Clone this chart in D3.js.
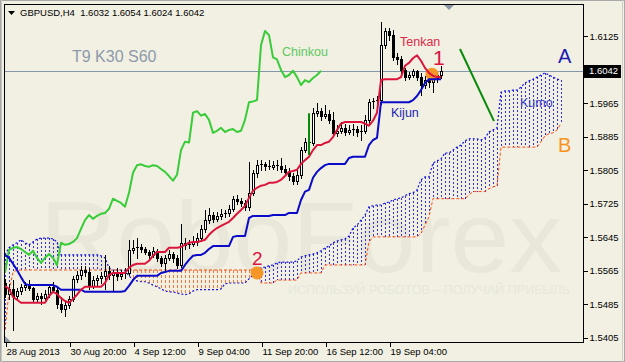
<!DOCTYPE html>
<html><head><meta charset="utf-8">
<script src="https://cdn.jsdelivr.net/npm/d3@7"></script>
<style>
html,body{margin:0;padding:0;background:#F1F0E3;}
svg{display:block;font-family:"Liberation Sans",Arial,sans-serif;}
</style></head><body>
<svg id="chart" width="625" height="362"></svg>
<script>
// ---------------- DATA ----------------
const symbolTitle = "GBPUSD,H4  1.6032 1.6054 1.6024 1.6042";
const settingsLabel = "T9 K30 S60";
const kumoShift = 30;
const lastPrice = 1.6042;

const openP = [1.5536,1.5510,1.5522,1.5505,1.5517,1.5527,1.5531,1.5524,1.5498,1.5505,
 1.5500,1.5510,1.5527,1.5520,1.5486,1.5474,1.5484,1.5498,1.5546,1.5555,
 1.5567,1.5562,1.5529,1.5543,1.5548,1.5553,1.5565,1.5555,1.5560,1.5553,
 1.5558,1.5560,1.5615,1.5620,1.5622,1.5617,1.5610,1.5603,1.5613,1.5596,
 1.5584,1.5596,1.5605,1.5596,1.5579,1.5632,1.5627,1.5629,1.5634,1.5643,
 1.5665,1.5686,1.5698,1.5689,1.5696,1.5701,1.5703,1.5713,1.5737,1.5732,
 1.5727,1.5718,1.5751,1.5799,1.5817,1.5819,1.5815,1.5813,1.5817,1.5815,
 1.5808,1.5801,1.5791,1.5780,1.5794,1.5853,1.5873,1.5871,1.5942,1.5946,
 1.5935,1.5939,1.5925,1.5894,1.5899,1.5906,1.5896,1.5901,1.5903,1.5896,
 1.5899,1.5925,1.5967,1.5969,1.5972,1.6103,1.6137,1.6127,1.6074,1.6069,
 1.6044,1.6027,1.6032,1.6042,1.6027,1.6008,1.6020,1.6015,1.6025,1.6032];
const highP = [1.5546,1.5534,1.5543,1.5524,1.5534,1.5539,1.5543,1.5527,1.5512,1.5512,
 1.5520,1.5534,1.5539,1.5527,1.5503,1.5491,1.5505,1.5553,1.5565,1.5577,
 1.5577,1.5572,1.5553,1.5555,1.5562,1.5603,1.5577,1.5567,1.5572,1.5567,
 1.5572,1.5639,1.5639,1.5643,1.5629,1.5622,1.5615,1.5622,1.5617,1.5601,
 1.5603,1.5615,1.5610,1.5603,1.5677,1.5643,1.5639,1.5648,1.5655,1.5674,
 1.5710,1.5715,1.5706,1.5706,1.5713,1.5710,1.5722,1.5744,1.5746,1.5739,
 1.5734,1.5825,1.5806,1.5829,1.5829,1.5825,1.5829,1.5827,1.5829,1.5834,
 1.5817,1.5810,1.5799,1.5806,1.5860,1.5882,1.5887,1.5953,1.5965,1.5953,
 1.5961,1.5949,1.5944,1.5913,1.5920,1.5916,1.5913,1.5916,1.5911,1.5913,
 1.5937,1.5975,1.5977,1.5982,1.6158,1.6144,1.6144,1.6139,1.6085,1.6077,
 1.6049,1.6039,1.6047,1.6044,1.6037,1.6030,1.6032,1.6032,1.6039,1.6054];
const lowP = [1.5503,1.5498,1.5424,1.5498,1.5510,1.5520,1.5520,1.5491,1.5493,1.5486,
 1.5496,1.5503,1.5515,1.5477,1.5467,1.5458,1.5477,1.5493,1.5539,1.5546,
 1.5553,1.5522,1.5524,1.5531,1.5536,1.5522,1.5546,1.5517,1.5543,1.5546,
 1.5548,1.5555,1.5608,1.5596,1.5610,1.5605,1.5596,1.5598,1.5589,1.5577,
 1.5567,1.5591,1.5586,1.5572,1.5574,1.5617,1.5620,1.5624,1.5627,1.5636,
 1.5658,1.5679,1.5682,1.5684,1.5689,1.5694,1.5696,1.5708,1.5725,1.5720,
 1.5710,1.5710,1.5746,1.5789,1.5806,1.5806,1.5808,1.5808,1.5806,1.5801,
 1.5794,1.5782,1.5772,1.5772,1.5787,1.5848,1.5863,1.5865,1.5935,1.5925,
 1.5930,1.5918,1.5889,1.5887,1.5894,1.5889,1.5892,1.5889,1.5887,1.5877,
 1.5894,1.5916,1.5953,1.5955,1.5963,1.6096,1.6115,1.6068,1.6058,1.6030,
 1.6020,1.6022,1.6027,1.6020,1.5984,1.6001,1.6003,1.5991,1.6015,1.6024];
const closeP = [1.5510,1.5522,1.5505,1.5517,1.5527,1.5531,1.5524,1.5498,1.5505,1.5500,
 1.5510,1.5527,1.5520,1.5486,1.5474,1.5484,1.5498,1.5546,1.5555,1.5567,
 1.5562,1.5529,1.5543,1.5548,1.5553,1.5565,1.5555,1.5560,1.5553,1.5558,
 1.5560,1.5615,1.5620,1.5622,1.5617,1.5610,1.5603,1.5613,1.5596,1.5584,
 1.5596,1.5605,1.5596,1.5579,1.5632,1.5627,1.5629,1.5634,1.5643,1.5665,
 1.5686,1.5698,1.5689,1.5696,1.5701,1.5703,1.5713,1.5737,1.5732,1.5727,
 1.5718,1.5751,1.5799,1.5817,1.5819,1.5815,1.5813,1.5817,1.5815,1.5808,
 1.5801,1.5791,1.5780,1.5794,1.5853,1.5873,1.5871,1.5942,1.5946,1.5935,
 1.5939,1.5925,1.5894,1.5899,1.5906,1.5896,1.5901,1.5903,1.5896,1.5899,
 1.5925,1.5967,1.5969,1.5972,1.6103,1.6137,1.6127,1.6074,1.6069,1.6044,
 1.6027,1.6032,1.6042,1.6027,1.6008,1.6020,1.6015,1.6025,1.6032,1.6042];

const tenkan = [1.5529,1.5522,1.5503,1.5496,1.5489,1.5489,1.5489,1.5489,1.5489,1.5489,
 1.5489,1.5505,1.5515,1.5510,1.5500,1.5493,1.5489,1.5498,1.5508,1.5520,
 1.5527,1.5527,1.5527,1.5527,1.5527,1.5536,1.5555,1.5560,1.5560,1.5560,
 1.5560,1.5572,1.5579,1.5582,1.5582,1.5582,1.5589,1.5601,1.5610,1.5610,
 1.5610,1.5620,1.5620,1.5620,1.5622,1.5627,1.5632,1.5634,1.5634,1.5636,
 1.5639,1.5651,1.5660,1.5667,1.5672,1.5677,1.5682,1.5691,1.5701,1.5710,
 1.5720,1.5739,1.5756,1.5763,1.5768,1.5770,1.5775,1.5775,1.5777,1.5782,
 1.5791,1.5801,1.5803,1.5806,1.5820,1.5829,1.5837,1.5853,1.5865,1.5865,
 1.5870,1.5873,1.5884,1.5901,1.5916,1.5920,1.5920,1.5920,1.5920,1.5920,
 1.5916,1.5911,1.5923,1.5942,1.6020,1.6022,1.6022,1.6022,1.6022,1.6027,
 1.6054,1.6061,1.6072,1.6079,1.6066,1.6049,1.6037,1.6030,1.6027,1.6027];
const kijun = [1.5603,1.5596,1.5582,1.5567,1.5550,1.5534,1.5531,1.5531,1.5531,1.5531,
 1.5531,1.5531,1.5531,1.5527,1.5520,1.5520,1.5520,1.5520,1.5520,1.5520,
 1.5515,1.5515,1.5515,1.5515,1.5515,1.5515,1.5515,1.5515,1.5515,1.5515,
 1.5517,1.5529,1.5543,1.5553,1.5553,1.5553,1.5553,1.5553,1.5553,1.5560,
 1.5562,1.5565,1.5565,1.5565,1.5565,1.5579,1.5591,1.5601,1.5603,1.5603,
 1.5608,1.5617,1.5624,1.5624,1.5624,1.5624,1.5624,1.5646,1.5648,1.5648,
 1.5648,1.5691,1.5696,1.5696,1.5696,1.5696,1.5696,1.5698,1.5698,1.5698,
 1.5698,1.5703,1.5703,1.5703,1.5734,1.5754,1.5758,1.5787,1.5801,1.5810,
 1.5817,1.5820,1.5820,1.5820,1.5820,1.5820,1.5834,1.5837,1.5837,1.5837,
 1.5837,1.5865,1.5877,1.5882,1.5967,1.5967,1.5967,1.5967,1.5967,1.5967,
 1.5967,1.5967,1.5972,1.5982,1.5996,1.6013,1.6022,1.6022,1.6022,1.6022];
const senkouA = [1.5603,1.5620,1.5627,1.5632,1.5639,1.5632,1.5627,1.5634,1.5641,1.5643,
 1.5643,1.5643,1.5641,1.5634,1.5603,1.5603,1.5603,1.5603,1.5603,1.5603,
 1.5603,1.5603,1.5603,1.5603,1.5601,1.5596,1.5572,1.5567,1.5567,1.5567,
 1.5565,1.5553,1.5543,1.5541,1.5539,1.5539,1.5536,1.5531,1.5527,1.5522,
 1.5517,1.5515,1.5515,1.5512,1.5510,1.5508,1.5510,1.5517,1.5520,1.5520,
 1.5520,1.5520,1.5520,1.5520,1.5522,1.5534,1.5536,1.5536,1.5536,1.5536,
 1.5536,1.5546,1.5555,1.5565,1.5572,1.5574,1.5577,1.5579,1.5584,1.5586,
 1.5586,1.5586,1.5586,1.5589,1.5598,1.5601,1.5603,1.5605,1.5608,1.5613,
 1.5620,1.5624,1.5632,1.5636,1.5639,1.5641,1.5648,1.5667,1.5674,1.5686,
 1.5698,1.5718,1.5720,1.5722,1.5722,1.5727,1.5729,1.5734,1.5737,1.5739,
 1.5744,1.5749,1.5751,1.5758,1.5782,1.5789,1.5789,1.5822,1.5827,1.5832,
 1.5846,1.5846,1.5853,1.5860,1.5865,1.5875,1.5880,1.5880,1.5880,1.5877,
 1.5882,1.5896,1.5901,1.5906,1.5991,1.5994,1.5994,1.5996,1.5996,1.6003,
 1.6013,1.6018,1.6022,1.6027,1.6032,1.6037,1.6032,1.6027,1.6022,1.6020];
const senkouB = [1.5424,1.5515,1.5562,1.5567,1.5567,1.5567,1.5567,1.5567,1.5567,1.5567,
 1.5567,1.5567,1.5567,1.5567,1.5567,1.5567,1.5567,1.5567,1.5567,1.5567,
 1.5567,1.5567,1.5567,1.5567,1.5567,1.5567,1.5567,1.5567,1.5567,1.5567,
 1.5567,1.5567,1.5567,1.5567,1.5567,1.5567,1.5567,1.5567,1.5567,1.5567,
 1.5567,1.5567,1.5567,1.5567,1.5567,1.5567,1.5567,1.5567,1.5567,1.5567,
 1.5567,1.5567,1.5567,1.5567,1.5567,1.5567,1.5567,1.5567,1.5567,1.5567,
 1.5567,1.5567,1.5567,1.5567,1.5536,1.5536,1.5536,1.5536,1.5543,1.5543,
 1.5543,1.5543,1.5543,1.5543,1.5560,1.5560,1.5560,1.5560,1.5560,1.5560,
 1.5579,1.5579,1.5579,1.5579,1.5579,1.5579,1.5579,1.5579,1.5579,1.5579,
 1.5579,1.5634,1.5646,1.5646,1.5646,1.5646,1.5646,1.5646,1.5646,1.5646,
 1.5646,1.5646,1.5646,1.5646,1.5655,1.5674,1.5694,1.5737,1.5737,1.5737,
 1.5737,1.5737,1.5737,1.5737,1.5737,1.5737,1.5746,1.5754,1.5754,1.5754,
 1.5754,1.5761,1.5765,1.5768,1.5860,1.5860,1.5860,1.5860,1.5860,1.5860,
 1.5860,1.5860,1.5860,1.5860,1.5873,1.5887,1.5892,1.5894,1.5901,1.5916];

const timeTickBars = [0,16,32,48,64,80,96];
const timeTickLabels = ["28 Aug 2013","30 Aug 20:00","4 Sep 12:00","9 Sep 04:00","11 Sep 20:00","16 Sep 12:00","19 Sep 04:00"];
const priceTicks = [1.5405,1.5485,1.5565,1.5645,1.5725,1.5805,1.5885,1.5965,1.6125];

// annotations anchored in (bar, price)
const signalCircles = [{bar:106.75, price:1.6034},{bar:63, price:1.5560}];
const trendSegment = {bar0:113.75, p0:1.6094, bar1:122.25, p1:1.5922};
const crossMark = {bar:76, p0:1.5941, p1:1.5841};
const labels = [
 {text:settingsLabel, bar:16.75, price:1.6064, size:16, color:"#8D9AAA"},
 {text:"Chinkou", bar:69.25, price:1.6078, size:12.5, color:"#5FC85F"},
 {text:"Tenkan", bar:98.75, price:1.6100, size:12.5, color:"#DC2A48"},
 {text:"Kijun", bar:96.5, price:1.5931, size:12.5, color:"#2424B4"},
 {text:"Kumo", bar:128.75, price:1.5955, size:12.5, color:"#3C3CC4"},
 {text:"A", bar:138.25, price:1.6061, size:20, color:"#1C1CB0"},
 {text:"B", bar:138.25, price:1.5848, size:20, color:"#F7941D"},
 {text:"1", bar:107, price:1.6055, size:21, color:"#DC143C"},
 {text:"2", bar:61.75, price:1.5579, size:19, color:"#DC143C"}
];

// ---------------- DRAW ----------------
const W=625, H=362;
const P={l:4,t:4,r:583,b:342};
const bg="#F1F0E3";
const svg=d3.select("#chart");
const x=d3.scaleLinear().domain([-0.25,144.5]).range([P.l,P.r]);
const y=d3.scaleLinear().domain([1.53953,1.620131]).range([P.b,P.t]);

svg.append("rect").attr("width",W).attr("height",H).attr("fill",bg);
// window border
svg.append("rect").attr("x",0.5).attr("y",0.5).attr("width",W-1).attr("height",H-1)
  .attr("fill","none").attr("stroke","#A8A8A8").attr("stroke-width",1);
svg.append("line").attr("x1",1.5).attr("x2",1.5).attr("y1",0).attr("y2",H).attr("stroke","#C8C8C0");
svg.append("line").attr("x1",W-2.5).attr("x2",W-2.5).attr("y1",0).attr("y2",H).attr("stroke","#D0D0C8");

svg.append("clipPath").attr("id","clip").append("rect")
  .attr("x",P.l).attr("y",P.t).attr("width",P.r-P.l).attr("height",P.b-P.t);
const g=svg.append("g").attr("clip-path","url(#clip)");

// watermark
g.append("text").attr("x",40).attr("y",272).attr("font-size",100).attr("fill","#E8E7DA")
  .attr("textLength",522).attr("lengthAdjust","spacingAndGlyphs").text("RoboForex");
g.append("text").attr("x",288).attr("y",294).attr("font-size",13).attr("fill","#E8E7DA")
  .attr("textLength",282).attr("lengthAdjust","spacingAndGlyphs").text("ИСПОЛЬЗУЙ РОБОТОВ – ПОЛУЧАЙ ПРИБЫЛЬ");

// current price line
g.append("line").attr("x1",P.l).attr("x2",P.r)
  .attr("y1",Math.round(y(lastPrice))+0.5).attr("y2",Math.round(y(lastPrice))+0.5)
  .attr("stroke","#8596AA").attr("stroke-width",1);

// kumo hatch
const nK=senkouA.length;
const hatch=g.append("g");
for(let i=0;i<nK;i++){
  const a=senkouA[i], b=senkouB[i];
  if(Math.abs(a-b)<1e-6) continue;
  const cx=Math.round(x(i))+0.5;
  hatch.append("line").attr("x1",cx).attr("x2",cx)
    .attr("y1",Math.round(y(Math.max(a,b)))).attr("y2",Math.round(y(Math.min(a,b))))
    .attr("stroke", a>b ? "#2E2EF0" : "#F27A3A").attr("stroke-width",1)
    .attr("stroke-dasharray", a>b ? "2,2" : "3,2");
}
const idxK=d3.range(nK);
g.append("path").datum(idxK).attr("fill","none").attr("stroke","#FF4A12").attr("stroke-width",1)
  .attr("stroke-dasharray","3,2")
  .attr("d",d3.line().x(i=>x(i)).y(i=>y(senkouB[i])));
g.append("path").datum(idxK).attr("fill","none").attr("stroke","#1414D8").attr("stroke-width",1.2)
  .attr("stroke-dasharray","2,2")
  .attr("d",d3.line().x(i=>x(i)).y(i=>y(senkouA[i])));

// candles
const cg=g.append("g").attr("shape-rendering","crispEdges");
for(let i=0;i<closeP.length;i++){
  const cx=Math.round(x(i));
  const o=openP[i], c=closeP[i];
  cg.append("line").attr("x1",cx+0.5).attr("x2",cx+0.5)
    .attr("y1",Math.round(y(highP[i]))).attr("y2",Math.round(y(lowP[i]))+1).attr("stroke","#000");
  const top=Math.round(y(Math.max(o,c))), bot=Math.round(y(Math.min(o,c)));
  if(bot-top<=1){
    cg.append("rect").attr("x",cx-1).attr("y",top).attr("width",3).attr("height",1).attr("fill","#000");
  } else if(c>o){
    cg.append("rect").attr("x",cx-0.5).attr("y",top+0.5).attr("width",2).attr("height",bot-top)
      .attr("fill","#FFFFFF").attr("stroke","#000");
  } else {
    cg.append("rect").attr("x",cx-1).attr("y",top).attr("width",3).attr("height",bot-top+1).attr("fill","#000");
  }
}

// signal circles
signalCircles.forEach(s=>{
  g.append("circle").attr("cx",x(s.bar)).attr("cy",y(s.price)).attr("r",6.5)
   .attr("fill","#F7941D").attr("opacity",0.95);
});

// indicator lines
const lineGen=arr=>d3.line().x((d,i)=>x(i)).y(d=>y(d)).curve(d3.curveLinear)(arr);
const chinkou=closeP.slice(kumoShift);
g.append("path").attr("d",lineGen(chinkou)).attr("fill","none").attr("stroke","#38CC38").attr("stroke-width",2).attr("stroke-linejoin","round");
g.append("path").attr("d",lineGen(kijun)).attr("fill","none").attr("stroke","#0A0AC8").attr("stroke-width",2).attr("stroke-linejoin","round");
g.append("path").attr("d",lineGen(tenkan)).attr("fill","none").attr("stroke","#DC143C").attr("stroke-width",2).attr("stroke-linejoin","round");

// green annotation lines
g.append("line").attr("x1",x(trendSegment.bar0)).attr("y1",y(trendSegment.p0))
  .attr("x2",x(trendSegment.bar1)).attr("y2",y(trendSegment.p1))
  .attr("stroke","#0A8A0A").attr("stroke-width",2);
g.append("line").attr("x1",x(crossMark.bar)).attr("x2",x(crossMark.bar))
  .attr("y1",y(crossMark.p0)).attr("y2",y(crossMark.p1))
  .attr("stroke","#0A8A0A").attr("stroke-width",2);

// labels
labels.forEach(l=>{
  g.append("text").attr("x",x(l.bar)).attr("y",y(l.price)).attr("font-size",l.size)
   .attr("fill",l.color).text(l.text);
});

// frame
svg.append("rect").attr("x",P.l+0.5).attr("y",P.t+0.5).attr("width",P.r-P.l).attr("height",P.b-P.t)
  .attr("fill","none").attr("stroke","#000").attr("shape-rendering","crispEdges");

// shift marker triangle (top) & corner marker
svg.append("path").attr("d",`M${x(111)-5},${P.t+1}L${x(111)+5},${P.t+1}L${x(111)},${P.t+6}Z`).attr("fill","#8A96A4");
svg.append("path").attr("d",`M${P.l+1},${P.b-6}L${P.l+1},${P.b}L${P.l+7},${P.b}Z`).attr("fill","#8A96A4");

// y axis
const yAxis=d3.axisRight(y).tickValues(priceTicks).tickSize(4).tickPadding(2).tickFormat(d3.format(".4f"));
const ya=svg.append("g").attr("transform",`translate(${P.r+0.5},0)`).call(yAxis);
ya.select(".domain").remove();
ya.selectAll("line").attr("stroke","#000").attr("shape-rendering","crispEdges");
ya.selectAll("text").attr("font-size",9.5).attr("fill","#000").attr("font-family","Liberation Sans, Arial, sans-serif");

// current price box
const ly=y(lastPrice);
svg.append("rect").attr("x",P.r+1).attr("y",Math.round(ly)-6).attr("width",37).attr("height",13).attr("fill","#000");
svg.append("text").attr("x",P.r+6).attr("y",ly).attr("dy","0.35em").attr("font-size",9.5).attr("fill","#fff").text(d3.format(".4f")(lastPrice));

// x axis
const xAxis=d3.axisBottom(x).tickValues(timeTickBars).tickSize(4).tickPadding(2).tickFormat((d,i)=>timeTickLabels[i]);
const xa=svg.append("g").attr("transform",`translate(0,${P.b+0.5})`).call(xAxis);
xa.select(".domain").remove();
xa.selectAll("line").attr("stroke","#000").attr("shape-rendering","crispEdges").attr("transform","translate(0.5,0)");
xa.selectAll("text").attr("text-anchor","start").attr("dx",1).attr("font-size",9.5).attr("fill","#000").attr("font-family","Liberation Sans, Arial, sans-serif");

// title
svg.append("path").attr("d","M8,11L15,11L11.5,15Z").attr("fill","#000");
svg.append("text").attr("x",20).attr("y",16).attr("font-size",9.5).attr("fill","#000").style("white-space","pre").text(symbolTitle);
</script>
</body></html>
